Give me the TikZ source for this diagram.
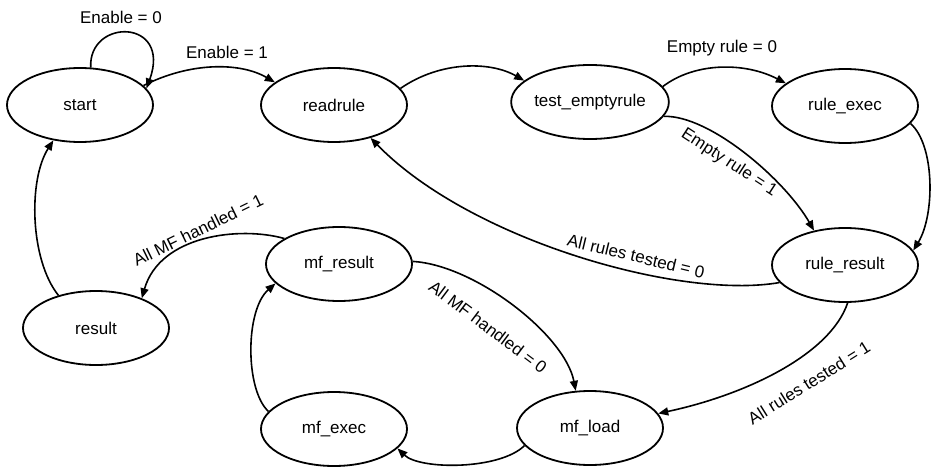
\documentclass[tikz,border=0pt]{standalone}
\usepackage{fontspec}
\setmainfont{Liberation Sans}
\usetikzlibrary{arrows.meta,shapes.geometric}
\begin{document}
\begin{tikzpicture}[x=1pt,y=-1pt,
  state/.style={draw, ellipse, line width=1.8pt, minimum width=146pt,
    minimum height=74pt, inner sep=0pt, font=\fontsize{17}{20}\selectfont},
  edge/.style={line width=1.6pt, -{Triangle[length=10pt,width=8pt]}},
  lbl/.style={font=\fontsize{17}{20}\selectfont, inner sep=0pt}]
\useasboundingbox (0,0) rectangle (931,468);

% states
\node[state] (start)          at (80,105)  {start};
\node[state] (readrule)       at (334,105) {readrule};
\node[state] (test_emptyrule) at (590,102) {test\_emptyrule};
\node[state] (rule_exec)      at (845,106) {rule\_exec};
\node[state] (rule_result)    at (845,265) {rule\_result};
\node[state] (result)         at (96,328)  {result};
\node[state] (mf_result)      at (339,264) {mf\_result};
\node[state] (mf_exec)        at (334,429) {mf\_exec};
\node[state] (mf_load)        at (590,428) {mf\_load};

% transitions
\draw[edge] (start.74) .. controls (88,18) and (172,18) .. (start.14);
\draw[edge] (start.17) .. controls (190,62) and (240,62) .. (readrule.159);
\draw[edge] (readrule.14) .. controls (440,61) and (490,61) .. (test_emptyrule.162);
\draw[edge] (test_emptyrule.12) .. controls (695,62) and (745,62) .. (rule_exec.159);
\draw[edge] (test_emptyrule.-11) .. controls (710,115) and (785,180) .. (rule_result.132);
\draw[edge] (rule_exec.-15) .. controls (935,145) and (935,215) .. (rule_result.12);
\draw[edge] (rule_result.195) .. controls (680,300) and (470,240) .. (readrule.-42);
\draw[edge] (rule_result.-86) .. controls (830,355) and (745,395) .. (mf_load.12);
\draw[edge] (mf_result.155) .. controls (240,226) and (160,235) .. (result.33);
\draw[edge] (mf_result.2) .. controls (475,265) and (565,335) .. (mf_load.111);
\draw[edge] (mf_load.195) .. controls (500,470) and (420,470) .. (mf_exec.-17);
\draw[edge] (mf_exec.165) .. controls (245,390) and (245,310) .. (mf_result.197);
\draw[edge] (result.139) .. controls (30,260) and (28,180) .. (start.233);

% transition labels
\node[lbl] (l_en0)  at (121,17)  {Enable = 0};
\node[lbl] (l_en1)  at (227,52)  {Enable = 1};
\node[lbl] (l_er0)  at (722,48)  {Empty rule = 0};
\node[lbl, rotate=-33] (l_er1) at (729,163) {Empty rule = 1};
\node[lbl, rotate=-13.5] (l_rt0) at (636,256) {All rules tested = 0};
\node[lbl, rotate=32] (l_rt1) at (809,383) {All rules tested = 1};
\node[lbl, rotate=26] (l_mf1) at (198,230) {All MF handled = 1};
\node[lbl, rotate=-37] (l_mf0) at (488,327) {All MF handled = 0};
\end{tikzpicture}
\end{document}
